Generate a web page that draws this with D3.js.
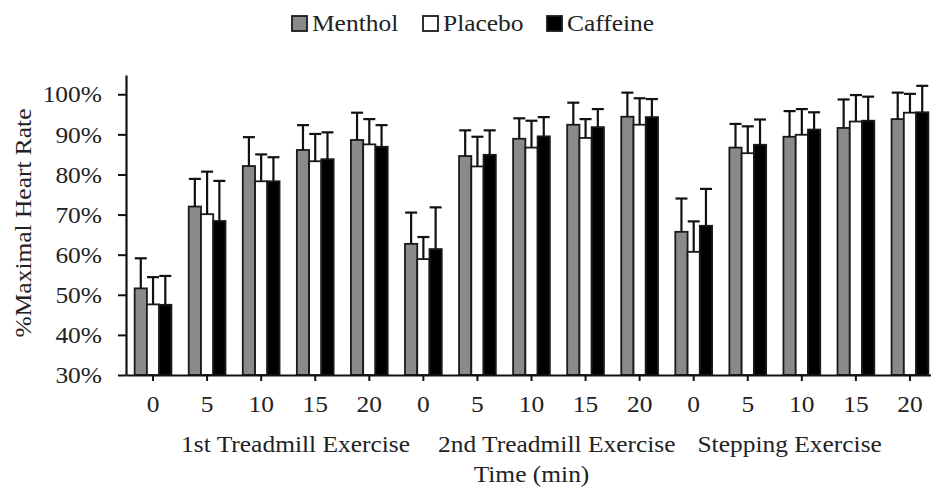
<!DOCTYPE html>
<html>
<head>
<meta charset="utf-8">
<script src="https://cdn.jsdelivr.net/npm/d3@7"></script>
<style>
  body { margin: 0; background: #fff; }
  text { font-family: "Liberation Serif", "Times New Roman", serif; fill: #222; }
</style>
</head>
<body>
<svg width="931" height="488"></svg>
<script>
// time points (min) for each exercise block
const times = ["0", "5", "10", "15", "20", "0", "5", "10", "15", "20", "0", "5", "10", "15", "20"];
const blocks = ["1st Treadmill Exercise", "2nd Treadmill Exercise", "Stepping Exercise"];
const series = ["Menthol", "Placebo", "Caffeine"];

// mean %HRmax
const menthol  = [51.6, 72.0, 82.1, 86.1, 88.6, 62.7, 84.6, 88.9, 92.4, 94.4, 65.7, 86.7, 89.4, 91.6, 93.8];
const placebo  = [47.6, 70.1, 78.3, 83.3, 87.5, 58.9, 82.0, 86.7, 89.1, 92.4, 60.7, 85.3, 89.9, 93.2, 95.4];
const caffeine = [47.5, 68.4, 78.3, 83.8, 86.9, 61.4, 84.9, 89.5, 91.8, 94.3, 67.2, 87.4, 91.2, 93.4, 95.5];

// SD (upper error bar only)
const mentholSD  = [7.5, 6.9, 7.2, 6.2, 6.8, 7.8, 6.4, 5.1, 5.5, 6.0, 8.3, 5.9, 6.4, 7.1, 6.6];
const placeboSD  = [6.8, 10.6, 6.7, 6.8, 6.3, 5.5, 7.4, 6.7, 4.7, 6.6, 7.6, 6.7, 6.4, 6.6, 4.7];
const caffeineSD = [7.2, 10.0, 6.0, 6.7, 5.4, 10.4, 6.1, 4.8, 4.5, 4.5, 9.2, 6.3, 4.3, 6.0, 6.6];

const yTicks = [30, 40, 50, 60, 70, 80, 90, 100];

const colors = { Menthol: "#8a8a8a", Placebo: "#ffffff", Caffeine: "#000000" };
const means = { Menthol: menthol, Placebo: placebo, Caffeine: caffeine };
const sds = { Menthol: mentholSD, Placebo: placeboSD, Caffeine: caffeineSD };

const svg = d3.select("svg");
const plotLeft = 126, plotRight = 937, plotTop = 75, plotBottom = 375;
const fontSize = 24;

// stretch text slightly wider, like the original scan
function widen(sel, k) {
  sel.each(function () {
    this.setAttribute("lengthAdjust", "spacingAndGlyphs");
    this.setAttribute("textLength", this.getComputedTextLength() * k);
  });
}

const idx = d3.range(times.length);
const x = d3.scaleBand().domain(idx).range([plotLeft, plotRight]).paddingInner(0.32).paddingOuter(0.16);
const xs = d3.scaleBand().domain(series).range([0, x.bandwidth()]);
const y = d3.scaleLinear().domain([30, 104.8]).range([plotBottom, plotTop]);

const rows = [];
series.forEach(s => idx.forEach(i => rows.push({ s, i, v: means[s][i], sd: sds[s][i] })));

// bars
svg.append("g")
  .selectAll("rect")
  .data(rows)
  .join("rect")
  .attr("x", d => x(d.i) + xs(d.s))
  .attr("y", d => y(d.v))
  .attr("width", xs.bandwidth())
  .attr("height", d => y(30) - y(d.v))
  .attr("fill", d => colors[d.s])
  .attr("stroke", "#1a1a1a")
  .attr("stroke-width", 1.8);

// error bars
const eb = svg.append("g").attr("stroke", "#111").attr("stroke-width", 2.2);
eb.selectAll("line.stem")
  .data(rows)
  .join("line")
  .attr("class", "stem")
  .attr("x1", d => x(d.i) + xs(d.s) + xs.bandwidth() / 2)
  .attr("x2", d => x(d.i) + xs(d.s) + xs.bandwidth() / 2)
  .attr("y1", d => y(d.v))
  .attr("y2", d => y(d.v + d.sd));
eb.selectAll("line.cap")
  .data(rows)
  .join("line")
  .attr("class", "cap")
  .attr("x1", d => x(d.i) + xs(d.s) + xs.bandwidth() / 2 - 6)
  .attr("x2", d => x(d.i) + xs(d.s) + xs.bandwidth() / 2 + 6)
  .attr("y1", d => y(d.v + d.sd))
  .attr("y2", d => y(d.v + d.sd));

// y axis
const yAxis = svg.append("g")
  .attr("transform", `translate(${plotLeft},0)`)
  .call(d3.axisLeft(y).tickValues(yTicks).tickSize(8).tickSizeOuter(0).tickPadding(16).tickFormat(d => d + "%"));
yAxis.select(".domain").attr("stroke", "#111").attr("stroke-width", 2.2);
yAxis.selectAll(".tick line").attr("stroke", "#111").attr("stroke-width", 2);
yAxis.selectAll(".tick text").attr("font-size", fontSize).attr("font-family", null).attr("fill", "#222").call(widen, 1.06);

// x axis
const xAxis = svg.append("g")
  .attr("transform", `translate(0,${plotBottom})`)
  .call(d3.axisBottom(x).tickSize(6).tickSizeOuter(0).tickPadding(14).tickFormat(i => times[i]));
xAxis.select(".domain").attr("stroke", "#111").attr("stroke-width", 2.2);
xAxis.selectAll(".tick line").attr("stroke", "#111").attr("stroke-width", 2);
xAxis.selectAll(".tick text").attr("font-size", fontSize).attr("font-family", null).attr("fill", "#222").call(widen, 1.06);

// block labels, laid out as one centred row
const blockGaps = [28, 22];
const bl = svg.append("g").selectAll("text")
  .data(blocks)
  .join("text")
  .attr("y", 452)
  .attr("font-size", fontSize)
  .text(d => d)
  .call(widen, 1.06);
const bw = bl.nodes().map(n => n.getComputedTextLength());
const total = d3.sum(bw) + d3.sum(blockGaps);
let cx = (plotLeft + plotRight) / 2 - total / 2;
bl.attr("x", (d, i) => {
  const p = cx;
  cx += bw[i] + (blockGaps[i] || 0);
  return p;
});

svg.append("text")
  .attr("x", (plotLeft + plotRight) / 2)
  .attr("y", 482)
  .attr("text-anchor", "middle")
  .attr("font-size", fontSize)
  .text("Time (min)")
  .call(widen, 1.06);

svg.append("text")
  .attr("transform", "translate(31,223) rotate(-90)")
  .attr("text-anchor", "middle")
  .attr("font-size", fontSize)
  .text("%Maximal Heart Rate")
  .call(widen, 1.06);

// legend
const legX = [292, 423, 547];
const leg = svg.append("g").selectAll("g")
  .data(series)
  .join("g")
  .attr("transform", (d, i) => `translate(${legX[i]},16)`);
leg.append("rect")
  .attr("width", 15)
  .attr("height", 15)
  .attr("fill", d => colors[d])
  .attr("stroke", "#1a1a1a")
  .attr("stroke-width", 1.8);
leg.append("text")
  .attr("x", 20)
  .attr("y", 15)
  .attr("font-size", fontSize)
  .text(d => d)
  .call(widen, 1.06);
</script>
</body>
</html>
